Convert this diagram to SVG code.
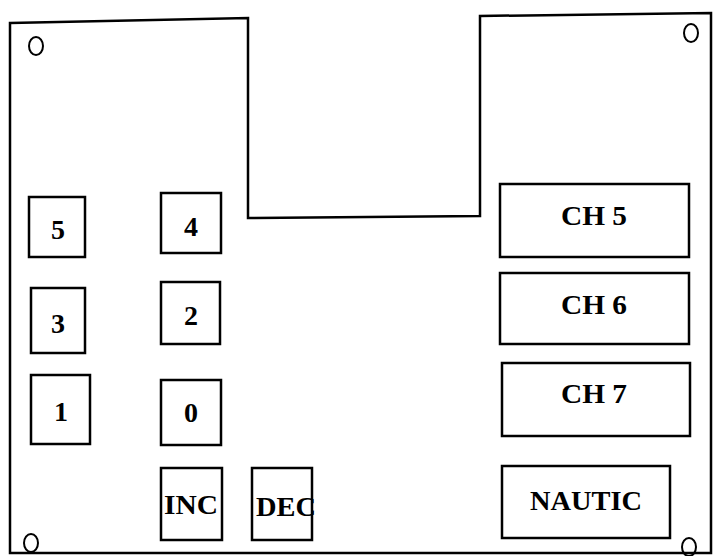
<svg xmlns="http://www.w3.org/2000/svg" width="718" height="556" viewBox="0 0 718 556">
<style>
.b{fill:#fff;stroke:#000;stroke-width:2.5}
.t{font-family:"Liberation Serif",serif;font-weight:bold;font-size:28px;text-anchor:middle}
.h{fill:none;stroke:#000;stroke-width:2}
</style>
<rect width="718" height="556" fill="#fff"/>
<g id="board"><path d="M10,23 L248,18 L248,218 L480,216 L480,16 L711,13 L711,553 L10,553 Z" fill="none" stroke="#000" stroke-width="2.5"/></g>
<g id="holes">
<ellipse class="h" cx="36" cy="46" rx="7" ry="9"/>
<ellipse class="h" cx="691" cy="33" rx="7" ry="9"/>
<ellipse class="h" cx="31" cy="543" rx="7" ry="9"/>
<ellipse class="h" cx="689" cy="547" rx="7" ry="9"/>
</g>
<g id="k5"><rect class="b" x="29" y="197" width="56" height="60"/><text class="t" x="58" y="239">5</text></g>
<g id="k4"><rect class="b" x="161" y="193" width="60" height="60"/><text class="t" x="191" y="236">4</text></g>
<g id="k3"><rect class="b" x="31" y="288" width="54" height="65"/><text class="t" x="58" y="333">3</text></g>
<g id="k2"><rect class="b" x="161" y="282" width="59" height="62"/><text class="t" x="191" y="325">2</text></g>
<g id="k1"><rect class="b" x="31" y="375" width="59" height="69"/><text class="t" x="61" y="421">1</text></g>
<g id="k0"><rect class="b" x="161" y="380" width="60" height="65"/><text class="t" x="191" y="422">0</text></g>
<g id="inc"><rect class="b" x="161" y="468" width="61" height="72"/><text class="t" x="191" y="514" textLength="54" lengthAdjust="spacingAndGlyphs">INC</text></g>
<g id="dec"><rect class="b" x="252" y="468" width="60" height="72"/><text class="t" x="286" y="516" textLength="60" lengthAdjust="spacingAndGlyphs">DEC</text></g>
<g id="ch5"><rect class="b" x="500" y="184" width="189" height="73"/><text class="t" x="594" y="225" textLength="66" lengthAdjust="spacingAndGlyphs">CH 5</text></g>
<g id="ch6"><rect class="b" x="500" y="273" width="189" height="71"/><text class="t" x="594" y="314" textLength="66" lengthAdjust="spacingAndGlyphs">CH 6</text></g>
<g id="ch7"><rect class="b" x="502" y="363" width="188" height="73"/><text class="t" x="594" y="403" textLength="66" lengthAdjust="spacingAndGlyphs">CH 7</text></g>
<g id="nautic"><rect class="b" x="502" y="466" width="168" height="72"/><text class="t" x="586" y="510" textLength="112" lengthAdjust="spacingAndGlyphs">NAUTIC</text></g>
<g id="connectors"/>
</svg>
